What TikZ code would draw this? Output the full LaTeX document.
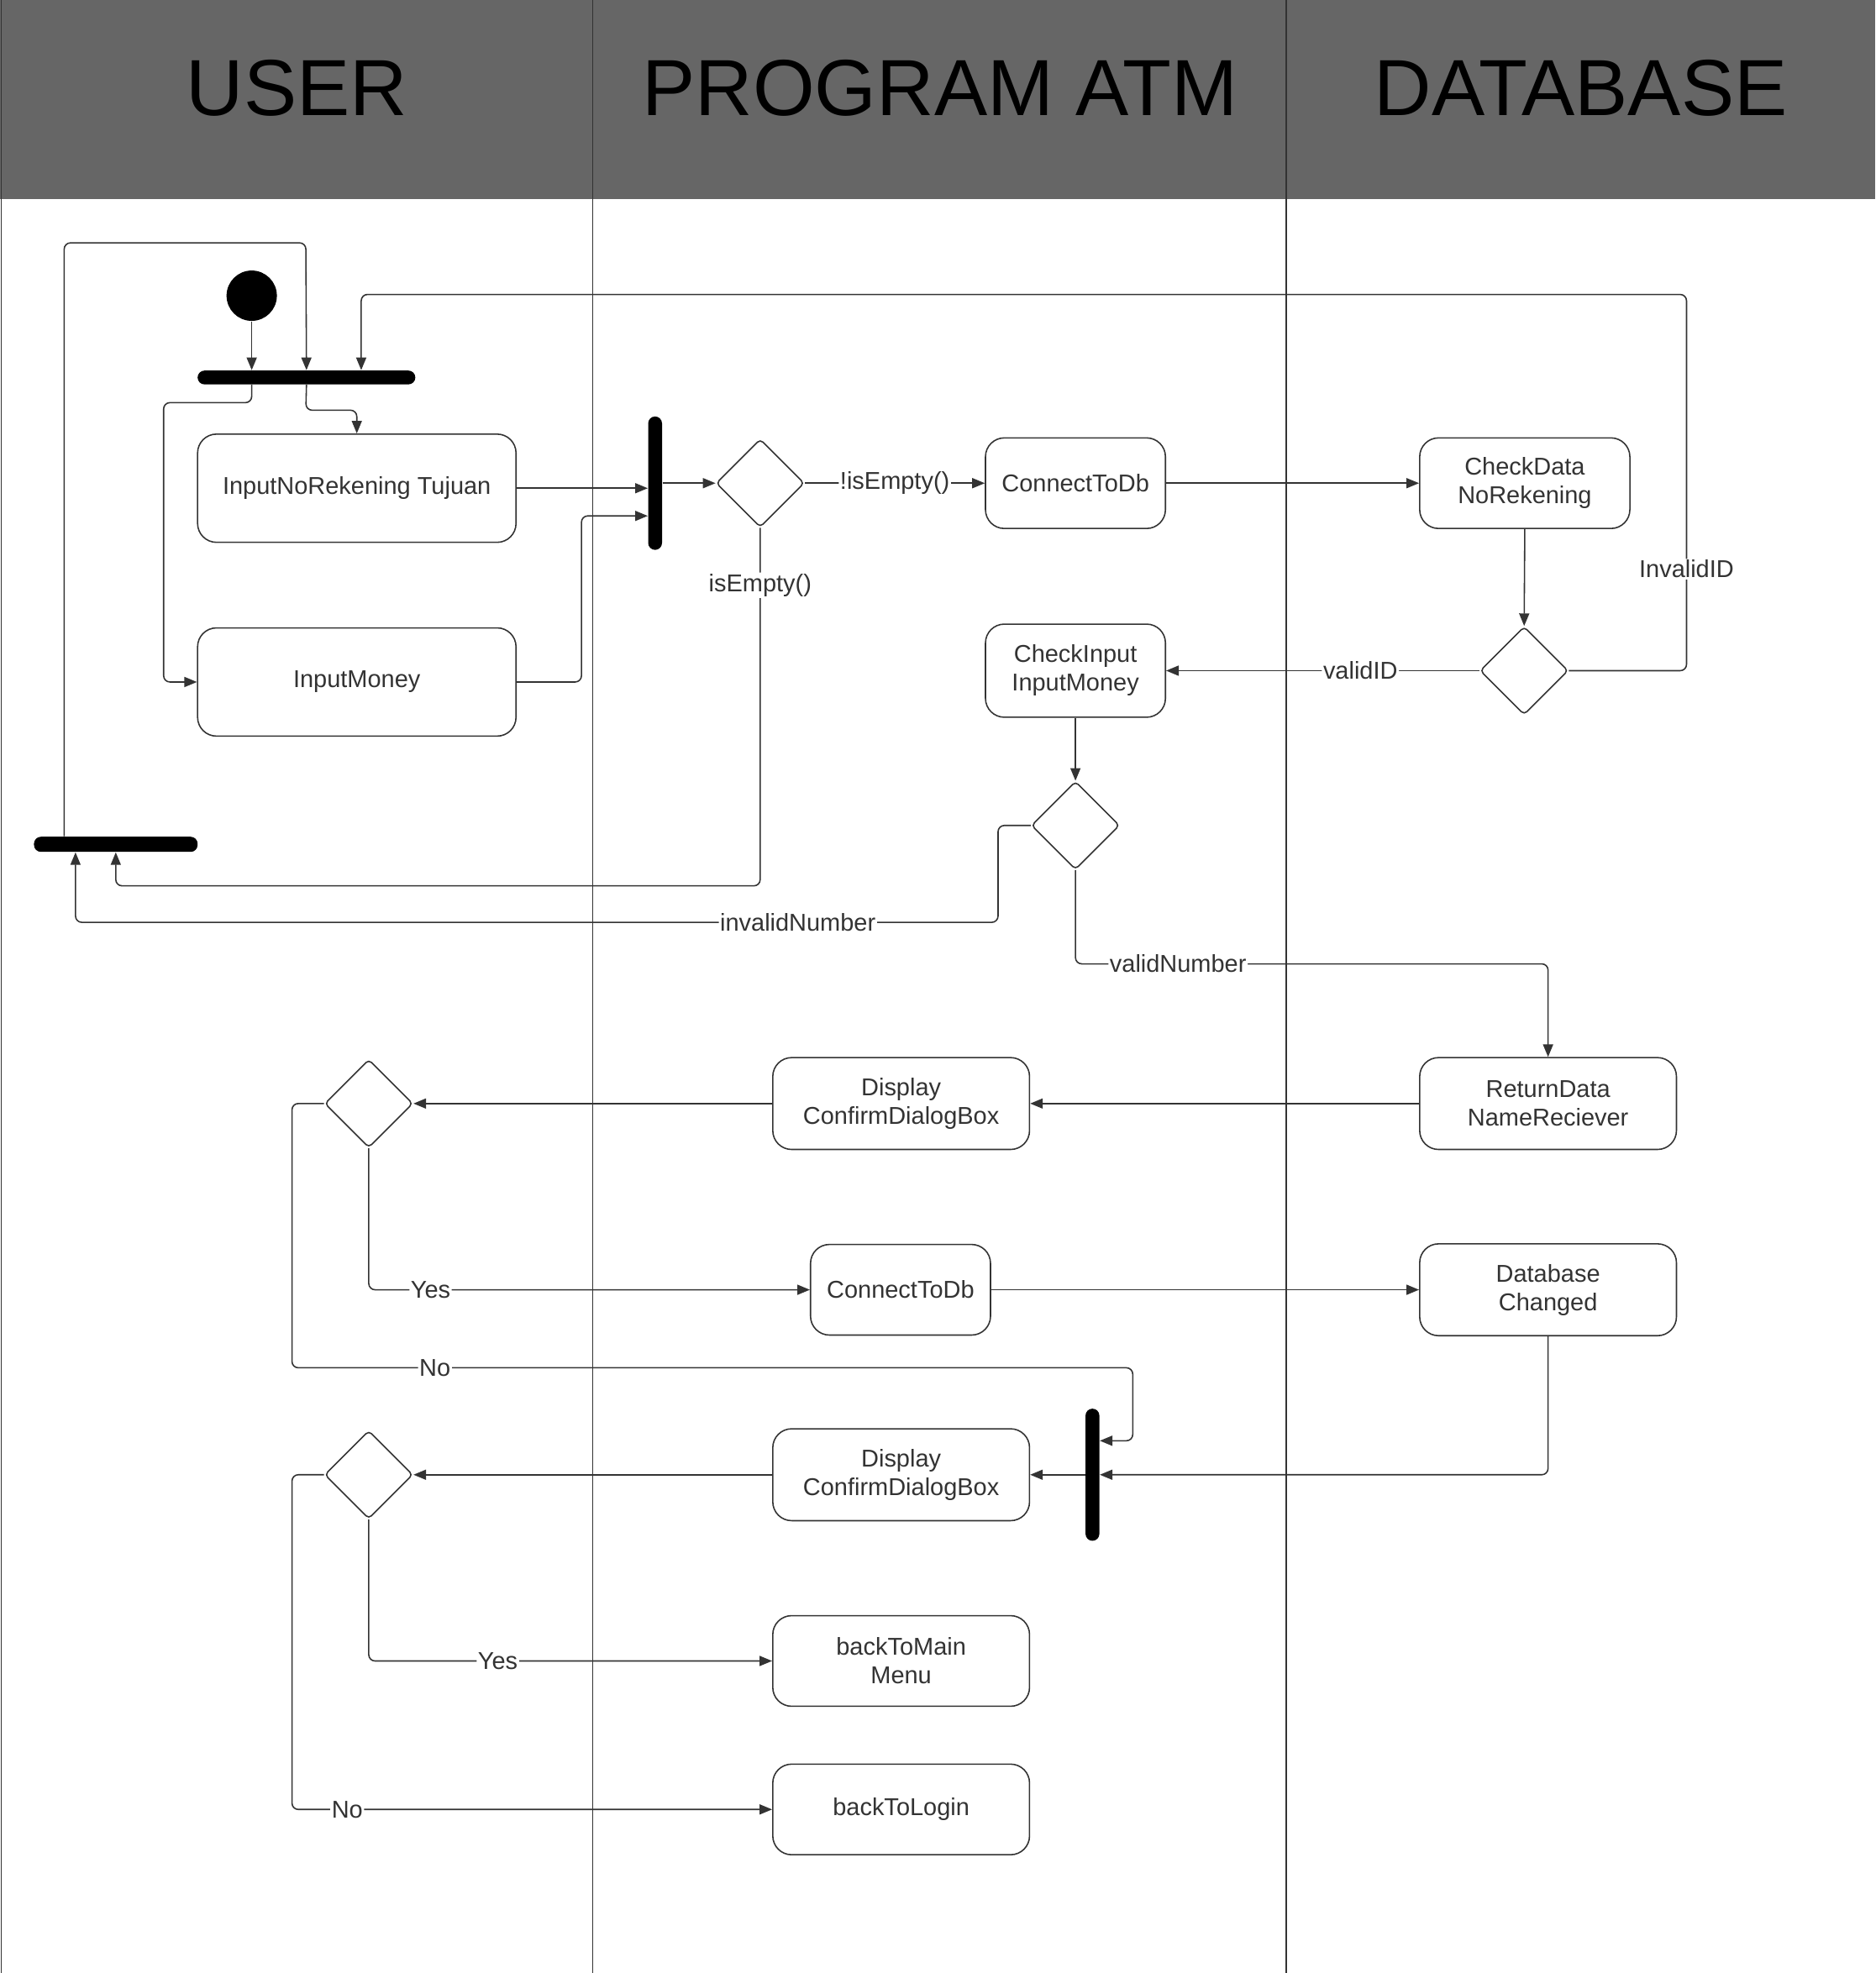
\documentclass[tikz,border=0pt]{standalone}
\usepackage{fontspec}
\setmainfont{Liberation Sans}
\newfontfamily\headfont{Liberation Sans}
\usetikzlibrary{shapes.geometric,arrows.meta,calc}

\definecolor{headgray}{HTML}{666666}
\definecolor{linegray}{HTML}{333333}
\newcommand{\actfont}{\fontsize{11}{12.9}\selectfont}

\tikzset{
  act/.style={draw=linegray, line width=0.6pt, rounded corners=3mm, align=center,
    font=\actfont, text=linegray, minimum height=14.4mm, inner sep=1mm},
  dec/.style={draw=linegray, line width=0.6pt, diamond, minimum width=14mm,
    minimum height=14mm, inner sep=0pt, rounded corners=0.6mm},
  bar/.style={fill=black, rounded corners=1.1mm, inner sep=0pt},
  flow/.style={draw=linegray, line width=0.6pt, rounded corners=1mm,
    -{Triangle[length=2mm,width=1.6mm]}},
  lbl/.style={fill=white, inner sep=0.6pt, font=\actfont, text=linegray},
  head/.style={font=\headfont\fontsize{36}{40}\selectfont, text=black},
  lane/.style={draw=linegray, line width=0.5pt}
}

\begin{document}
\begin{tikzpicture}[x=0.2mm, y=-0.2mm]
\useasboundingbox (0,0) rectangle (1490,1568);

% swimlanes
\fill[headgray] (0,0) rectangle (1490,158);
\draw[lane] (1,0) -- (1,1568);
\draw[lane] (471,0) -- (471,1568);
\draw[lane] (1022,0) -- (1022,1568);
\node[head] (hUser) at (236,70) {USER};
\node[head] (hAtm) at (747,70) {PROGRAM ATM};
\node[head] (hDb) at (1256,70) {DATABASE};

% start and bars
\node[circle, fill=black, minimum size=8mm, inner sep=0pt] (start) at (200,235) {};
\node[bar, minimum width=34.6mm, minimum height=2.2mm] (bar1) at (243.5,300) {};
\node[bar, minimum width=2.2mm, minimum height=21.2mm] (bar2) at (520.5,384) {};
\node[bar, minimum width=26mm, minimum height=2.4mm] (bar3) at (92,671) {};
\node[bar, minimum width=2.2mm, minimum height=21mm] (bar4) at (868,1172) {};

% activities
\node[act, minimum width=50.6mm, minimum height=17.2mm] (inRek) at (283.5,388) {InputNoRekening Tujuan};
\node[act, minimum width=50.6mm, minimum height=17.2mm] (inMoney) at (283.5,542) {InputMoney};
\node[act, minimum width=28.6mm] (conDb) at (854.5,384) {ConnectToDb};
\node[act, minimum width=33.4mm] (chkRek) at (1211.5,384) {CheckData\\NoRekening};
\node[act, minimum width=28.6mm, minimum height=14.8mm] (chkMoney) at (854.5,533) {CheckInput\\InputMoney};
\node[act, minimum width=40.8mm, minimum height=14.6mm] (retName) at (1230,877) {ReturnData\\NameReciever};
\node[act, minimum width=40.8mm, minimum height=14.6mm] (dispA) at (716,877) {Display\\ConfirmDialogBox};
\node[act, minimum width=28.6mm] (conDbB) at (715.5,1025) {ConnectToDb};
\node[act, minimum width=40.8mm, minimum height=14.6mm] (dbChg) at (1230,1025) {Database\\Changed};
\node[act, minimum width=40.8mm, minimum height=14.6mm] (dispB) at (716,1172) {Display\\ConfirmDialogBox};
\node[act, minimum width=40.8mm] (toMain) at (716,1320) {backToMain\\Menu};
\node[act, minimum width=40.8mm] (toLogin) at (716,1438) {backToLogin};

% decisions
\node[dec] (decEmpty) at (604,384) {};
\node[dec] (decId) at (1211,533) {};
\node[dec] (decNum) at (854.5,656) {};
\node[dec] (decConfA) at (293,877) {};
\node[dec] (decConfB) at (293,1172) {};

% flows
\draw[flow] (start) -- (start |- bar1.north);
\draw[flow] ($(bar3.north)+(-41,0)$) -- (51,193) -- (243,193) -- (bar1.north);
\draw[flow] (decId.east) -- (1340,533) -- node[lbl, pos=0.27] {InvalidID} (1340,234)
  -- (287,234) -- ($(bar1.north)+(43.5,0)$);
\draw[flow] ($(bar1.south)+(-43.5,0)$) -- (200,320) -- (130,320) -- (130,542) -- (inMoney.west);
\draw[flow] (bar1.south) -- (243,326) -- (283.5,326) -- (inRek.north);
\draw[flow] (inRek.east) -- (inRek.east -| bar2.west);
\draw[flow] (inMoney.east) -- (462,542) -- (462,410) -- ($(bar2.west)+(0,26)$);
\draw[flow] (bar2.east) -- (decEmpty.west);
\draw[flow] (decEmpty.east) -- node[lbl] {!isEmpty()} (conDb.west);
\draw[flow] (conDb.east) -- (chkRek.west);
\draw[flow] (chkRek.south) -- (decId.north);
\draw[flow] (decId.west) -- node[lbl, pos=0.38] {validID} (chkMoney.east);
\draw[flow] (chkMoney.south) -- (decNum.north);
\draw[flow] (decNum.west) -- (793,656) -- (793,733) -- node[lbl, pos=0.217] {invalidNumber} (60,733)
  -- ($(bar3.south)+(-32,0)$);
\draw[flow] (decEmpty.south) -- node[lbl, pos=0.16] {isEmpty()} (604,704) -- (92,704) -- (bar3.south);
\draw[flow] (decNum.south) -- (854.5,766) -- node[lbl, pos=0.217] {validNumber} (1230,766) -- (retName.north);
\draw[flow] (retName.west) -- (dispA.east);
\draw[flow] (dispA.west) -- (decConfA.east);
\draw[flow] (decConfA.south) -- (293,1025) -- node[lbl, pos=0.14] {Yes} (conDbB.west);
\draw[flow] (conDbB.east) -- (dbChg.west);
\draw[flow] (decConfA.west) -- (232,877) -- (232,1087) -- node[lbl, pos=0.17] {No} (900,1087)
  -- (900,1145) -- ($(bar4.east)+(0,-27)$);
\draw[flow] (dbChg.south) -- (1230,1172) -- (bar4.east);
\draw[flow] (bar4.west) -- (dispB.east);
\draw[flow] (dispB.west) -- (decConfB.east);
\draw[flow] (decConfB.south) -- (293,1320) -- node[lbl, pos=0.32] {Yes} (toMain.west);
\draw[flow] (decConfB.west) -- (232,1172) -- (232,1438) -- node[lbl, pos=0.115] {No} (toLogin.west);
\end{tikzpicture}
\end{document}
